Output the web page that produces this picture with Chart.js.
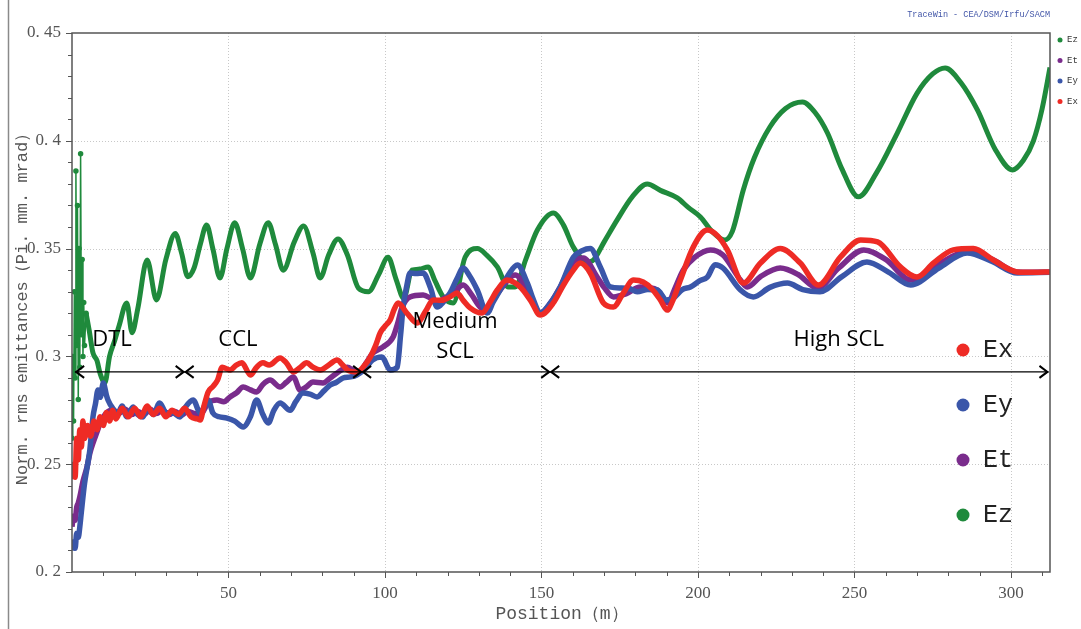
<!DOCTYPE html>
<html>
<head>
<meta charset="utf-8">
<script src="https://cdn.jsdelivr.net/npm/chart.js@4"></script>
<style>
  html, body { margin: 0; padding: 0; background: #fff; }
  #wrap { width: 1081px; height: 629px; }
</style>
</head>
<body>
<div id="wrap"><canvas id="emitChart" width="1081" height="629"></canvas></div>
<script>
// positions (m) and emittances
const exPos = [0,0.5,1,1.5,2,2.5,3,3.5,4,5,6,7,8,9,10,11,12,13,14,16,18,20,22,24,26,28,30,32,34,36,38,40,41,42,43.5,45,46.5,48,50.5,52.5,54.3,57,59,61,63,66.5,68.5,70.7,73,75,77,79.3,82,84.7,86.5,88,91,93,95.3,97,98.5,100,101.7,103,104.2,107,110.3,113,115.4,118,120.8,123,125,127.2,131,133.5,135.9,139,143.2,146.5,149.6,153.8,157,160.2,162.4,165.6,169.8,173,176,179.4,182.5,185.5,188,190.2,192,194.4,198.5,203,206.2,209.4,214.5,220,226.3,232.7,238.5,245.5,252,257.4,264.7,270,275.3,281.6,288,294.4,302,307,312.5];
const exVal = [0.243,0.25,0.244,0.262,0.252,0.266,0.258,0.27,0.262,0.268,0.263,0.27,0.266,0.272,0.268,0.274,0.27,0.275,0.271,0.276,0.272,0.276,0.272,0.277,0.273,0.276,0.272,0.275,0.273,0.276,0.272,0.271,0.2705,0.276,0.2835,0.286,0.289,0.295,0.2937,0.296,0.297,0.2914,0.295,0.297,0.296,0.2993,0.297,0.2928,0.295,0.297,0.295,0.2937,0.296,0.2983,0.296,0.2937,0.2928,0.295,0.2997,0.305,0.311,0.314,0.317,0.322,0.3248,0.3201,0.3155,0.321,0.3262,0.326,0.3276,0.3294,0.326,0.3225,0.3201,0.325,0.3308,0.3354,0.3322,0.326,0.3192,0.3248,0.333,0.340,0.3433,0.3387,0.3248,0.3229,0.329,0.3354,0.3345,0.331,0.3262,0.3215,0.326,0.3354,0.3507,0.3586,0.356,0.3494,0.334,0.3433,0.350,0.3433,0.3331,0.346,0.354,0.3531,0.3415,0.3368,0.3433,0.3494,0.350,0.3447,0.3392,0.339,0.3392];

const eyPos = [0,0.5,1,1.5,2,2.5,3,4,5,5.7,6.7,7.5,8.3,9,10,11,11.5,13,14.7,16,17.5,19.5,21,22.7,24,26,28,30,32.3,34.5,36,38.7,41,43.5,45,47,49.5,52,54.7,57,59,61,62.7,64.5,66.5,69.7,71.5,73.8,76,78.3,80.5,82.5,84.5,86.6,89,91,93.5,96,99,101.7,103.9,105,105.8,107,108,110,112.2,114.5,116.7,118.5,120.8,123,125,127.2,129.5,132.7,134.5,136.8,139.5,142.3,145.5,147.5,149.6,153,156,160.2,163,165.6,168.8,172,175.2,178,180.6,184,187,190,192.1,195,197.6,200.5,203,205.5,208,213.6,217.7,223,228.6,233.5,239,246,254,261,268,277,286,294,302,312.5];
const eyVal = [0.210,0.214,0.211,0.218,0.216,0.221,0.228,0.241,0.25,0.2566,0.2719,0.278,0.2844,0.281,0.2877,0.282,0.2798,0.276,0.2738,0.277,0.272,0.2765,0.273,0.2719,0.276,0.273,0.2784,0.274,0.2738,0.2719,0.276,0.2798,0.2738,0.2798,0.2738,0.272,0.2714,0.27,0.2673,0.272,0.2798,0.273,0.2691,0.275,0.2784,0.275,0.279,0.283,0.2825,0.2812,0.284,0.2867,0.288,0.290,0.2905,0.2914,0.294,0.2983,0.2997,0.2937,0.295,0.31,0.3229,0.333,0.3387,0.3385,0.3387,0.332,0.3229,0.325,0.3294,0.336,0.341,0.337,0.3308,0.3201,0.325,0.3308,0.338,0.3424,0.334,0.326,0.3201,0.325,0.3322,0.346,0.349,0.350,0.3415,0.3322,0.3317,0.3315,0.330,0.331,0.3308,0.3262,0.327,0.331,0.3322,0.335,0.3368,0.3425,0.341,0.3308,0.3276,0.332,0.334,0.331,0.330,0.337,0.3438,0.339,0.3331,0.341,0.348,0.344,0.3387,0.339];

const etPos = [0,0.5,1,1.5,2,2.5,3.5,4.8,5.7,6.7,8,9,11,13,15,17,19,21,23,25,27,29,31,33,35,37,39,41,43.5,46.3,48.5,50.5,52.5,54.7,57,59,61,63.3,66.5,68.5,70.7,72.9,75,77,80.2,82.5,84.7,88,90,92,94,96.2,99.4,102.6,104,105.5,108,112.2,114.5,116.7,119,121.8,125,127.5,130.4,132.7,134.5,136.8,141.6,145.5,149.6,153,156,160.2,163.4,167.8,170,173,177,181.6,184,187,190.5,192.5,195.3,199,204,208,213.6,215.8,220,226.3,232,238.2,245,253,260,268,277,286,294,302,312.5];
const etVal = [0.221,0.226,0.224,0.23,0.232,0.2348,0.242,0.2487,0.255,0.2598,0.265,0.2691,0.2738,0.275,0.2735,0.2755,0.273,0.2745,0.273,0.2755,0.2735,0.275,0.273,0.2745,0.2728,0.2745,0.2735,0.273,0.2784,0.2798,0.279,0.2812,0.283,0.2858,0.2845,0.2835,0.287,0.289,0.2858,0.288,0.2905,0.2844,0.286,0.2881,0.2877,0.29,0.2923,0.295,0.2935,0.2928,0.297,0.3016,0.3044,0.309,0.315,0.3229,0.3276,0.3285,0.327,0.3248,0.327,0.3294,0.3331,0.329,0.3229,0.3215,0.326,0.3308,0.3378,0.3308,0.3201,0.325,0.3322,0.3438,0.3456,0.3368,0.332,0.3276,0.329,0.3322,0.332,0.3308,0.3248,0.331,0.340,0.346,0.3494,0.347,0.3354,0.3322,0.337,0.341,0.338,0.3317,0.341,0.3494,0.345,0.3354,0.343,0.3485,0.345,0.3392,0.339];

// Ez: spiky part inside the DTL entrance, then the smooth part
const ezDtlPos = [0,0.25,0.5,0.75,1.0,1.25,1.5,1.75,2.0,2.25,2.5,2.75,3.0,3.25,3.5,3.75,4.0,4.5];
const ezDtlVal = [0.262,0.30,0.27,0.33,0.29,0.386,0.305,0.37,0.28,0.35,0.295,0.394,0.31,0.345,0.30,0.325,0.305,0.32];
const ezPos = [4.5,5.5,6.7,8,9,10.5,12,13.7,15,17.5,19.2,21,24,27,30,33,35,37,39,41,43,45,47.3,49.5,52,54.5,57,60,62.7,65,67.5,71,74,77,79.3,82,85,88,91.5,94.7,98,101,103.5,106,108.6,111,113.8,116,118.6,121.8,125.6,129.5,132.5,135.9,139.4,141.6,145,148.7,153.8,157,160.2,164.6,166.6,170,174.2,179,183.8,188,193.4,197,200.8,204.5,208.5,211,214.5,218,223,228,233.4,237.5,241.4,246,251.3,257,263.7,270,275,279,284,289.3,295,300.5,304,307.2,310,312.5];
const ezVal = [0.32,0.312,0.3016,0.298,0.292,0.2877,0.300,0.3076,0.314,0.3248,0.311,0.322,0.3447,0.3262,0.345,0.357,0.348,0.337,0.341,0.352,0.361,0.35,0.3364,0.35,0.362,0.35,0.3364,0.352,0.362,0.352,0.340,0.353,0.3605,0.348,0.3364,0.347,0.3545,0.347,0.3317,0.330,0.338,0.346,0.336,0.327,0.340,0.3405,0.3415,0.335,0.3276,0.3248,0.346,0.350,0.347,0.3415,0.3322,0.3322,0.345,0.3586,0.3665,0.361,0.3507,0.3438,0.3447,0.353,0.3633,0.374,0.380,0.377,0.3735,0.369,0.3647,0.358,0.354,0.358,0.3772,0.392,0.4064,0.415,0.418,0.413,0.4036,0.387,0.374,0.385,0.4036,0.422,0.431,0.4338,0.427,0.4143,0.396,0.3865,0.391,0.400,0.415,0.434];

const seriesNames = ['Ex', 'Ey', 'Et', 'Ez'];
const seriesColors = ['#ee2b25', '#3a56a9', '#7a2c8c', '#1f8a3c'];

// accelerator sections (start, end in m) and their labels
const sectionStart = [1, 36, 92.7, 152.8];
const sectionEnd = [36, 92.7, 152.8, 312];
const sectionLabels = [['DTL'], ['CCL'], ['Medium', 'SCL'], ['High SCL']];
const sectionLabelX = [12.8, 53, 122.4, 245];

const toPoints = (xs, ys) => xs.map((x, i) => ({ x: x, y: ys[i] }));

function line(label, color, pts, width) {
    return {
        label: label,
        data: pts,
        borderColor: color,
        backgroundColor: color,
        borderWidth: width,
        pointRadius: 0,
        cubicInterpolationMode: 'monotone'
    };
}

const decorPlugin = {
    id: 'decor',
    beforeDatasetsDraw(chart) {
        const { ctx, chartArea: a, scales: { x, y } } = chart;
        ctx.save();
        // dotted grid
        ctx.strokeStyle = '#c8c8c8';
        ctx.lineWidth = 1;
        ctx.setLineDash([1, 2]);
        for (let v = 50; v <= 300; v += 50) {
            const px = Math.round(x.getPixelForValue(v)) + 0.5;
            ctx.beginPath(); ctx.moveTo(px, a.top); ctx.lineTo(px, a.bottom); ctx.stroke();
        }
        for (let v = 0.25; v < 0.449; v += 0.05) {
            const py = Math.round(y.getPixelForValue(v)) + 0.5;
            ctx.beginPath(); ctx.moveTo(a.left, py); ctx.lineTo(a.right, py); ctx.stroke();
        }
        ctx.restore();
    },
    afterDraw(chart) {
        const { ctx, chartArea: a, scales: { x, y } } = chart;
        ctx.save();
        // frame
        ctx.strokeStyle = '#555';
        ctx.lineWidth = 1.5;
        ctx.strokeRect(a.left, a.top, a.right - a.left, a.bottom - a.top);
        ctx.lineWidth = 1;
        // minor ticks
        for (let i = 0; i <= 25; i++) {
            const py = Math.round(y.getPixelForValue(0.2 + i * 0.01)) + 0.5;
            ctx.beginPath(); ctx.moveTo(a.left - (i % 5 ? 4 : 6), py); ctx.lineTo(a.left, py); ctx.stroke();
        }
        for (let v = 10; v <= 310; v += 10) {
            const px = Math.round(x.getPixelForValue(v)) + 0.5;
            ctx.beginPath(); ctx.moveTo(px, a.bottom); ctx.lineTo(px, a.bottom + (v % 50 ? 4 : 6)); ctx.stroke();
        }
        // page edge at left
        ctx.strokeStyle = '#8a8a8a';
        ctx.lineWidth = 1.5;
        ctx.beginPath(); ctx.moveTo(8.5, 0); ctx.lineTo(8.5, 629); ctx.stroke();

        // section arrows and names
        const ay = y.getPixelForValue(0.2928);
        ctx.strokeStyle = '#000';
        ctx.fillStyle = '#000';
        sectionStart.forEach((s, i) => {
            const x0 = x.getPixelForValue(s), x1 = x.getPixelForValue(sectionEnd[i]);
            ctx.lineWidth = 1.3;
            ctx.beginPath(); ctx.moveTo(x0, ay); ctx.lineTo(x1, ay); ctx.stroke();
            ctx.lineWidth = 2;
            ctx.beginPath();
            ctx.moveTo(x0 + 9, ay - 6); ctx.lineTo(x0 + 1, ay); ctx.lineTo(x0 + 9, ay + 6);
            ctx.moveTo(x1 - 9, ay - 6); ctx.lineTo(x1 - 1, ay); ctx.lineTo(x1 - 9, ay + 6);
            ctx.stroke();
            ctx.font = '22px "Open Sans", "Liberation Sans", sans-serif';
            ctx.textAlign = 'center';
            ctx.textBaseline = 'middle';
            const lines = sectionLabels[i];
            const lx = x.getPixelForValue(sectionLabelX[i]);
            const top = lines.length > 1 ? y.getPixelForValue(0.316) : y.getPixelForValue(0.3076);
            lines.forEach((t, k) => ctx.fillText(t, lx, top + k * 30));
        });
        ctx.restore();

        ctx.save();
        // big legend inside plot
        ctx.font = '25px "Liberation Mono", monospace';
        ctx.textBaseline = 'middle';
        ctx.textAlign = 'left';
        seriesNames.forEach((n, i) => {
            const ly = 350 + i * 55;
            ctx.fillStyle = seriesColors[i];
            ctx.beginPath(); ctx.arc(963, ly, 6.5, 0, Math.PI * 2); ctx.fill();
            ctx.fillStyle = '#222';
            ctx.fillText(n, 983, ly);
        });
        // small legend outside right
        ctx.font = '9px "Liberation Mono", monospace';
        [3, 2, 1, 0].forEach((k, i) => {
            const ly = 40 + i * 20.5;
            ctx.fillStyle = seriesColors[k];
            ctx.beginPath(); ctx.arc(1060, ly, 2.5, 0, Math.PI * 2); ctx.fill();
            ctx.fillStyle = '#333';
            ctx.fillText(seriesNames[k], 1067, ly);
        });
        // watermark
        ctx.font = '8.5px "Liberation Mono", monospace';
        ctx.fillStyle = '#4256a8';
        ctx.textAlign = 'right';
        ctx.fillText('TraceWin - CEA/DSM/Irfu/SACM', 1050, 15);
        // axis titles
        ctx.fillStyle = '#555';
        ctx.textAlign = 'center';
        ctx.font = '18px "Liberation Mono", monospace';
        ctx.fillText('Position\uFF08m\uFF09', 562, 614);
        ctx.translate(22, 305);
        ctx.rotate(-Math.PI / 2);
        ctx.font = '17px "Liberation Mono", monospace';
        ctx.fillText('Norm. rms emittances\uFF08Pi. mm. mrad\uFF09', 0, 0);
        ctx.restore();
    }
};

const ctx = document.getElementById('emitChart').getContext('2d');
const emitChart = new Chart(ctx, {
    type: 'line',
    data: {
        datasets: [
            line('Ex', seriesColors[0], toPoints(exPos, exVal), 5.5),
            line('Ey', seriesColors[1], toPoints(eyPos, eyVal), 5.5),
            line('Et', seriesColors[2], toPoints(etPos, etVal), 5.5),
            line('Ez', seriesColors[3], toPoints(ezPos, ezVal), 5),
            Object.assign(line('Ez DTL', seriesColors[3], toPoints(ezDtlPos, ezDtlVal), 1.5),
                { pointRadius: 2, cubicInterpolationMode: 'default', tension: 0 })
        ]
    },
    options: {
        responsive: false,
        animation: false,
        layout: { padding: { left: 0, top: 33, right: 31, bottom: 0 } },
        plugins: { legend: { display: false }, tooltip: { enabled: false } },
        scales: {
            x: {
                type: 'linear',
                min: 0,
                max: 312.5,
                grid: { display: false, drawTicks: true, tickLength: 6 },
                border: { display: false },
                ticks: {
                    stepSize: 50,
                    includeBounds: false,
                    padding: 5,
                    maxRotation: 0,
                    autoSkip: false,
                    color: '#555',
                    font: { family: '"Liberation Serif", serif', size: 17 },
                    callback: v => (v === 0 || v % 50 !== 0) ? '' : String(v)
                },
                afterFit: s => { s.height = 57; }
            },
            y: {
                min: 0.2,
                max: 0.45,
                grid: { display: false, drawTicks: true, tickLength: 6 },
                border: { display: false },
                ticks: {
                    stepSize: 0.05,
                    padding: 5,
                    color: '#555',
                    font: { family: '"Liberation Serif", serif', size: 17 },
                    callback: v => String(+v.toFixed(2)).replace('.', '. ')
                },
                afterFit: s => { s.width = 72; }
            }
        }
    },
    plugins: [decorPlugin]
});
</script>
</body>
</html>
